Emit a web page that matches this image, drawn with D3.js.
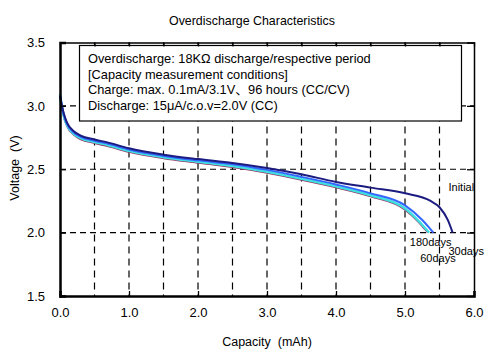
<!DOCTYPE html>
<html>
<head>
<meta charset="utf-8">
<script src="https://cdn.jsdelivr.net/npm/d3@7"></script>
<style>
html,body{margin:0;padding:0;background:#fff;}
svg{display:block;font-family:"Liberation Sans",Arial,"Noto Sans CJK JP",sans-serif;}
</style>
</head>
<body>
<svg id="chart" width="500" height="360"></svg>
<script>
// ---- data ----
const xTicks = [0, 1, 2, 3, 4, 5, 6];
const yTicks = [1.5, 2.0, 2.5, 3.0, 3.5];
const xGrid = [0.5, 1, 1.5, 2, 2.5, 3, 3.5, 4, 4.5, 5, 5.5];
const yGrid = [2.0, 2.5, 3.0];

const initialData = [[0,3.08],[0.05,2.95],[0.1,2.87],[0.2,2.80],[0.3,2.765],[0.5,2.735],[0.7,2.71],[1.0,2.665],[1.5,2.615],[2.0,2.58],[2.5,2.55],[3.0,2.51],[3.5,2.46],[4.0,2.40],[4.5,2.355],[5.0,2.31],[5.37,2.25],[5.5,2.20],[5.62,2.10],[5.69,2.0]];
const days30Data = [[0,3.08],[0.05,2.94],[0.1,2.86],[0.2,2.79],[0.3,2.755],[0.5,2.725],[0.7,2.70],[1.0,2.655],[1.5,2.605],[2.0,2.57],[2.5,2.54],[3.0,2.495],[3.5,2.44],[4.0,2.38],[4.5,2.31],[5.0,2.215],[5.25,2.10],[5.35,2.04],[5.41,2.0]];
const days60Data = [[0,3.09],[0.05,2.93],[0.1,2.85],[0.2,2.78],[0.3,2.745],[0.5,2.715],[0.7,2.69],[1.0,2.645],[1.5,2.595],[2.0,2.56],[2.5,2.525],[3.0,2.48],[3.5,2.425],[4.0,2.365],[4.5,2.295],[5.0,2.19],[5.2,2.09],[5.3,2.03],[5.35,2.0]];
const days180Data = [[0,3.09],[0.05,2.92],[0.1,2.84],[0.2,2.77],[0.3,2.735],[0.5,2.705],[0.7,2.68],[1.0,2.635],[1.5,2.585],[2.0,2.55],[2.5,2.515],[3.0,2.47],[3.5,2.415],[4.0,2.355],[4.5,2.285],[5.0,2.18],[5.2,2.08],[5.28,2.03],[5.33,2.0]];

const seriesNames = ["180days","60days","30days","Initial"];
const seriesColors = ["#993366","#3fdfe0","#3366ff","#1c1c80"];
const seriesWidths = [1.5, 2.5, 2, 2];
const seriesData = [days180Data, days60Data, days30Data, initialData];

const title = "Overdischarge Characteristics";
const xTitle = "Capacity\u00a0\u00a0(mAh)";
const yTitle = "Voltage\u00a0\u00a0(V)";
const noteLines = [
  "Overdischarge: 18K\u03a9 discharge/respective period",
  "[Capacity measurement conditions]",
  "Charge: max. 0.1mA/3.1V\u300196 hours (CC/CV)",
  "Discharge: 15\u03bcA/c.o.v=2.0V (CC)"
];
const curveLabels = [
  {text:"Initial", x:5.63, y:2.325},
  {text:"180days", x:5.07, y:1.897},
  {text:"30days", x:5.63, y:1.825},
  {text:"60days", x:5.22, y:1.77}
];

// ---- layout ----
const svg = d3.select("#chart");
const L = 60, R = 474, T = 42.5, B = 296;
const x = d3.scaleLinear().domain([0, 6]).range([L, R]);
const y = d3.scaleLinear().domain([1.5, 3.5]).range([B, T]);

// title
svg.append("text").attr("x", 252).attr("y", 25).attr("text-anchor","middle")
  .attr("font-size", 12.4).text(title);

// grid
const g = svg.append("g");
g.selectAll("line.vg").data(xGrid).enter().append("line")
  .attr("x1", d=>x(d)).attr("x2", d=>x(d)).attr("y1", T).attr("y2", B)
  .attr("stroke","#000").attr("stroke-width",1.2).attr("stroke-dasharray","7,5");
g.selectAll("line.hg").data(yGrid).enter().append("line")
  .attr("x1", L).attr("x2", R).attr("y1", d=>y(d)).attr("y2", d=>y(d))
  .attr("stroke","#000").attr("stroke-width",1.2).attr("stroke-dasharray","6,4");

// note box
svg.append("rect").attr("x", 79.5).attr("y", 45.5).attr("width", 382).attr("height", 75.5)
  .attr("fill","#fff").attr("stroke","#000").attr("stroke-width",1.2);
svg.selectAll("text.note").data(noteLines).enter().append("text")
  .attr("x", 88).attr("y", (d,i)=>63 + i*15.7).attr("font-size", 12.8).text(d=>d);

// top & right frame with inward ticks
const topAxis = d3.axisTop(x).tickValues(xGrid).tickSize(-4).tickFormat("");
const ta = svg.append("g").attr("transform",`translate(0,${T})`).call(topAxis);
ta.select(".domain").attr("stroke-width",1.3);
const rightAxis = d3.axisRight(y).tickValues(yGrid).tickSize(-7).tickFormat("");
const ra = svg.append("g").attr("transform",`translate(${R},0)`).call(rightAxis);
ra.select(".domain").attr("stroke-width",1.5);

// curves
const line = d3.line().x(d=>x(d[0])).y(d=>y(d[1])).curve(d3.curveMonotoneX);
seriesData.forEach((s,i)=>{
  svg.append("path").datum(s).attr("d", line).attr("fill","none")
    .attr("stroke", seriesColors[i]).attr("stroke-width", seriesWidths[i])
    .attr("stroke-linejoin","round");
});

// bottom axis
const bottomAxis = d3.axisBottom(x).tickValues(xTicks).tickFormat(d3.format(".1f")).tickSize(-5).tickPadding(12);
const ba = svg.append("g").attr("transform",`translate(0,${B})`).call(bottomAxis);
ba.select(".domain").attr("stroke-width",2.5);
ba.selectAll("text").attr("font-size",13).attr("font-family",null);
// left axis
const leftAxis = d3.axisLeft(y).tickValues(yTicks).tickFormat(d3.format(".1f")).tickSize(-6).tickPadding(15);
const la = svg.append("g").attr("transform",`translate(${L},0)`).call(leftAxis);
la.select(".domain").attr("stroke-width",2.5);
la.selectAll("text").attr("font-size",13).attr("font-family",null);
svg.selectAll(".domain").attr("stroke","#000");
svg.selectAll(".tick line").attr("stroke","#000").attr("stroke-width",1.3);

// axis titles
svg.append("text").attr("x", 267).attr("y", 346).attr("text-anchor","middle")
  .attr("font-size",12.5).text(xTitle);
svg.append("text").attr("transform","translate(19,168) rotate(-90)").attr("text-anchor","middle")
  .attr("font-size",12.5).text(yTitle);

// curve labels
svg.selectAll("text.cl").data(curveLabels).enter().append("text")
  .attr("x", d=>x(d.x)).attr("y", d=>y(d.y)).attr("font-size",11).text(d=>d.text);
</script>
</body>
</html>
